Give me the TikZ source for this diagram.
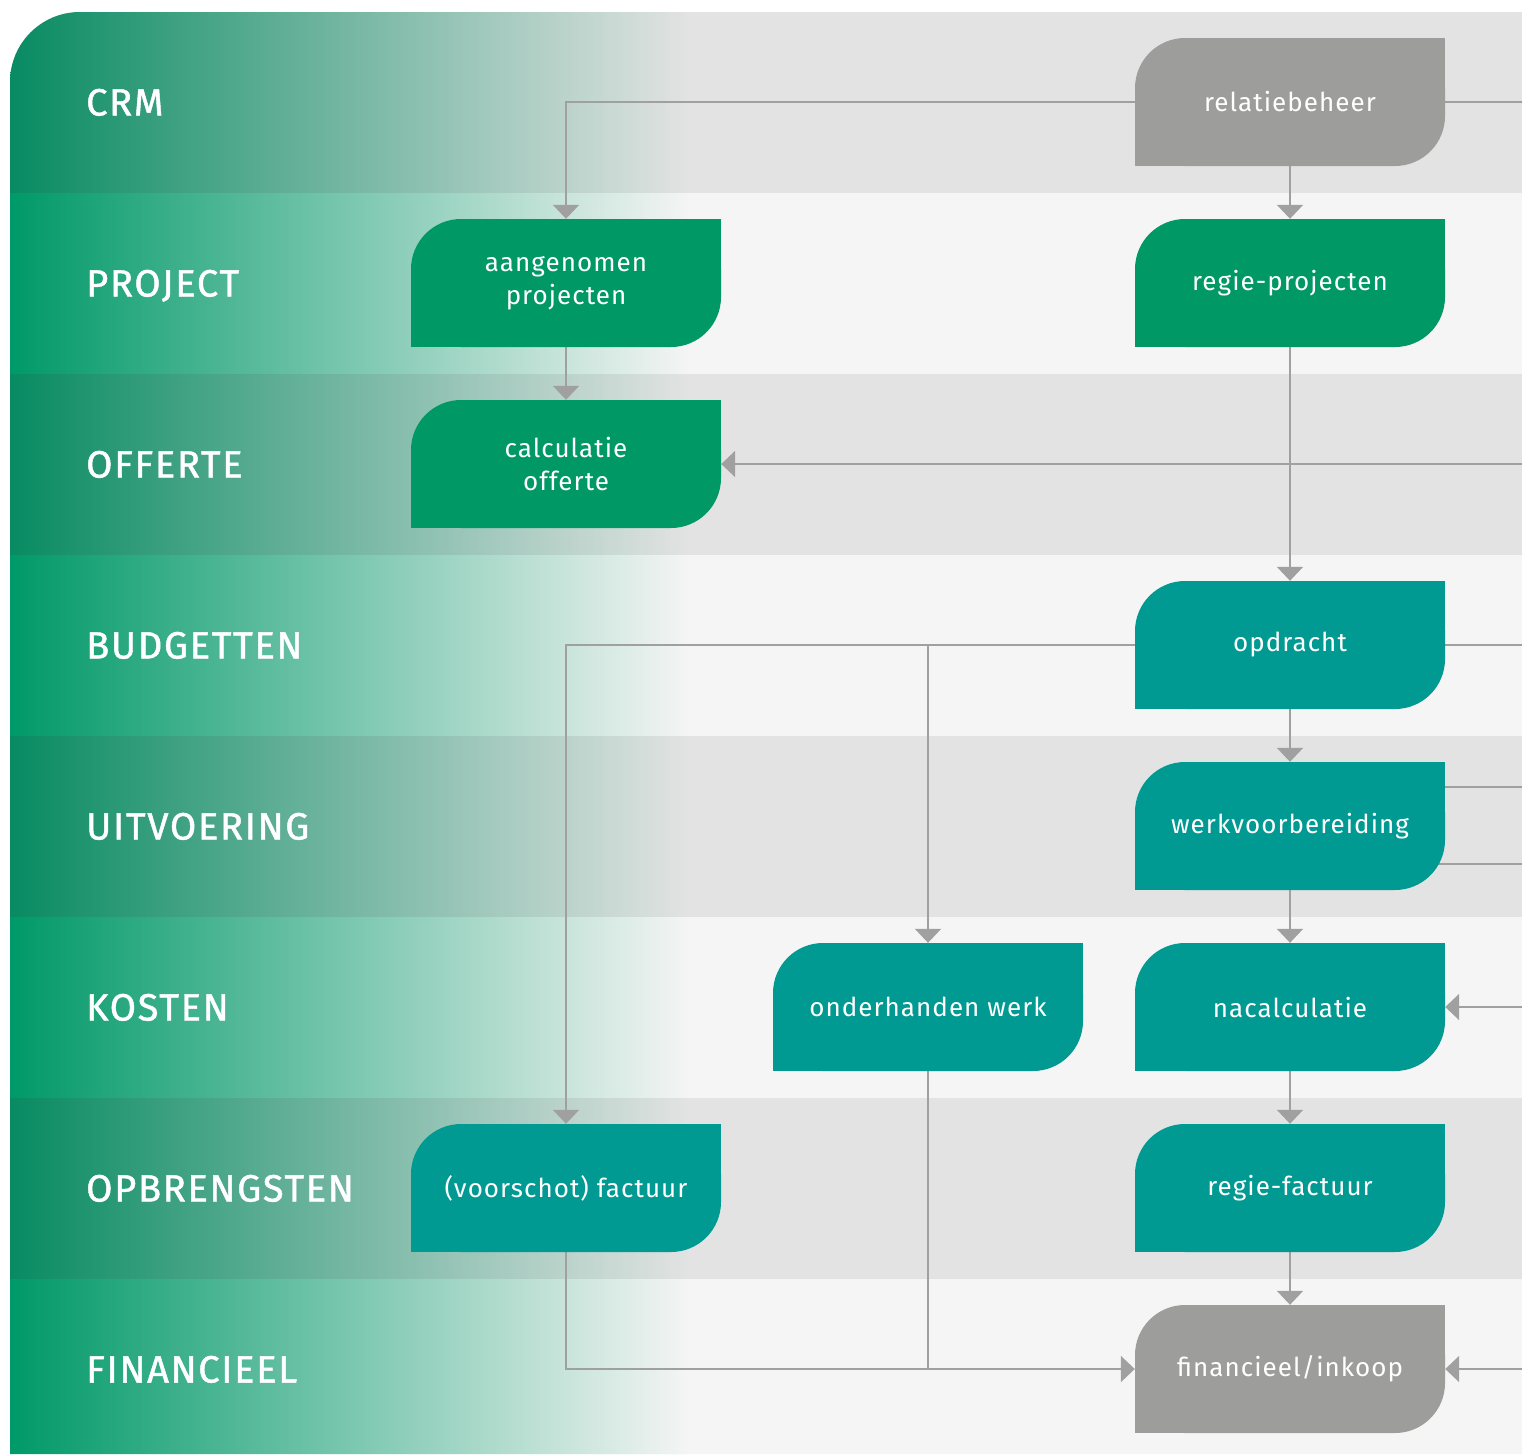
\documentclass[tikz,border=0pt]{standalone}
\usepackage{fontspec}
\setmainfont{Fira Sans}
\newfontfamily\lanefont{Fira Sans}[LetterSpace=4.5,FakeBold=1.2]
\newfontfamily\boxfont{Fira Sans}[LetterSpace=4]
\usetikzlibrary{arrows.meta,calc}
\definecolor{gbox}{RGB}{0,153,102}
\definecolor{tbox}{RGB}{0,154,146}
\definecolor{graybox}{RGB}{157,157,155}
\definecolor{lanedark}{RGB}{227,227,227}
\definecolor{lanelight}{RGB}{245,245,245}
\definecolor{gdark}{RGB}{8,139,98}
\definecolor{glight}{RGB}{0,153,104}
\definecolor{linec}{RGB}{160,160,160}
\pgfdeclarelayer{bg}
\pgfdeclarelayer{lines}
\pgfsetlayers{bg,lines,main}
\begin{document}
\begin{tikzpicture}[x=1pt,y=-1pt,
  box/.style={minimum width=310pt,minimum height=128pt,inner sep=0pt,text=white,align=center,
    font=\boxfont\fontsize{26}{33}\selectfont,
    path picture={
      \fill[#1,rounded corners=50pt] (path picture bounding box.south west) rectangle (path picture bounding box.north east);
      \fill[#1] (path picture bounding box.south west) rectangle (path picture bounding box.center);
      \fill[#1] (path picture bounding box.center) rectangle (path picture bounding box.north east);}},
  lanelabel/.style={anchor=base west,text=white,inner sep=0pt,font=\lanefont\fontsize{38}{44}\selectfont},
  conn/.style={draw=linec,line width=2pt},
  arr/.style={conn,-{Triangle[width=26pt,length=14pt]}}]
\useasboundingbox (0,0) rectangle (1522,1454);

\begin{pgfonlayer}{bg}
\begin{scope}
\clip (10,1454) -- (10,82) .. controls (10,43.3) and (41.3,12) .. (80,12) -- (1522,12) -- (1522,1454) -- cycle;
\fill[lanedark] (10,12) rectangle (1522,193);
\shade[left color=gdark,right color=lanedark] (10,12) rectangle (690,193);
\fill[lanelight] (10,193) rectangle (1522,374);
\shade[left color=glight,right color=lanelight] (10,193) rectangle (690,374);
\fill[lanedark] (10,374) rectangle (1522,555);
\shade[left color=gdark,right color=lanedark] (10,374) rectangle (690,555);
\fill[lanelight] (10,555) rectangle (1522,736);
\shade[left color=glight,right color=lanelight] (10,555) rectangle (690,736);
\fill[lanedark] (10,736) rectangle (1522,917);
\shade[left color=gdark,right color=lanedark] (10,736) rectangle (690,917);
\fill[lanelight] (10,917) rectangle (1522,1098);
\shade[left color=glight,right color=lanelight] (10,917) rectangle (690,1098);
\fill[lanedark] (10,1098) rectangle (1522,1279);
\shade[left color=gdark,right color=lanedark] (10,1098) rectangle (690,1279);
\fill[lanelight] (10,1279) rectangle (1522,1460);
\shade[left color=glight,right color=lanelight] (10,1279) rectangle (690,1460);
\end{scope}
\end{pgfonlayer}

% lane labels
\node[lanelabel] (l1) at (86,115.5) {CRM};
\node[lanelabel] (l2) at (86,296.5) {PROJECT};
\node[lanelabel] (l3) at (86,477.5) {OFFERTE};
\node[lanelabel] (l4) at (86,658.5) {BUDGETTEN};
\node[lanelabel] (l5) at (86,839.5) {UITVOERING};
\node[lanelabel] (l6) at (86,1020.5) {KOSTEN};
\node[lanelabel] (l7) at (86,1201.5) {OPBRENGSTEN};
\node[lanelabel] (l8) at (86,1382.5) {FINANCIEEL};

% boxes
\node[box=graybox] (rel) at (1290,102) {relatiebeheer};
\node[box=gbox] (ap) at (566,283) {aangenomen\\projecten};
\node[box=gbox] (rp) at (1290,283) {regie-projecten};
\node[box=gbox] (co) at (566,464) {calculatie\\offerte};
\node[box=tbox] (op) at (1290,645) {opdracht};
\node[box=tbox] (wv) at (1290,826) {werkvoorbereiding};
\node[box=tbox] (oh) at (928,1007) {onderhanden werk};
\node[box=tbox] (nc) at (1290,1007) {nacalculatie};
\node[box=tbox] (vf) at (566,1188) {(voorschot) factuur};
\node[box=tbox] (rf) at (1290,1188) {regie-factuur};
\node[box=graybox] (fin) at (1290,1369) {financieel/inkoop};

\coordinate (redge) at (1522,0);
\coordinate (w1) at (1522,787);
\coordinate (w2) at (1522,864);

\begin{pgfonlayer}{lines}
\draw[arr] (rel.west) -| (ap.north);
\draw[conn] (rel.east) -- (rel.east -| redge);
\draw[arr] (rel.south) -- (rp.north);
\draw[arr] (ap.south) -- (co.north);
\draw[arr] (rp.south) -- (op.north);
\draw[arr] (redge |- co.east) -- (co.east);
\draw[arr] (op.west) -| (vf.north);
\draw[arr] (op.west -| oh.north) -- (oh.north);
\draw[conn] (op.east) -- (op.east -| redge);
\draw[arr] (op.south) -- (wv.north);
\draw[conn] (wv.center |- w1) -- (w1);
\draw[conn] (wv.center |- w2) -- (w2);
\draw[arr] (wv.south) -- (nc.north);
\draw[arr] (redge |- nc.east) -- (nc.east);
\draw[arr] (nc.south) -- (rf.north);
\draw[arr] (rf.south) -- (fin.north);
\draw[arr] (vf.south) |- (fin.west);
\draw[conn] (oh.south) -- (oh.south |- fin.west);
\draw[arr] (redge |- fin.east) -- (fin.east);
\end{pgfonlayer}
\end{tikzpicture}
\end{document}
